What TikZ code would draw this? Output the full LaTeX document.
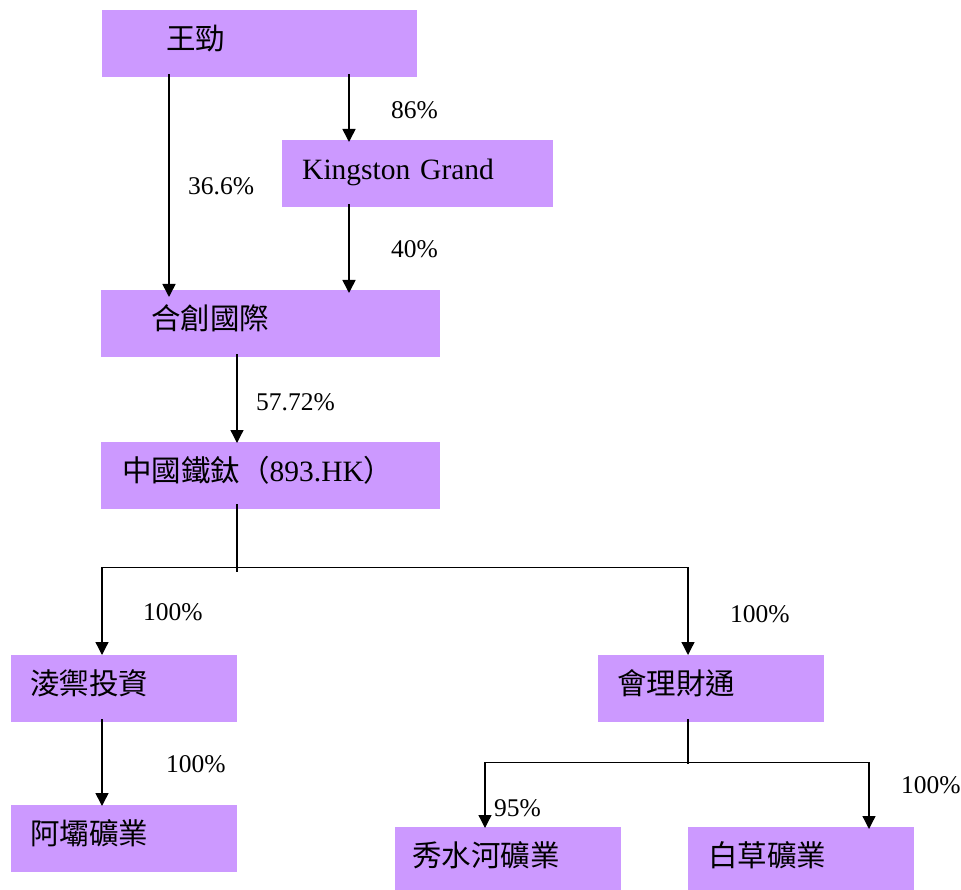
\documentclass[tikz,border=0pt]{standalone}
\usepackage{fontspec}
\setmainfont{Liberation Serif}
\newfontfamily\cjk{Noto Sans CJK TC}
\usetikzlibrary{arrows.meta}
\definecolor{boxpurple}{RGB}{204,153,255}

\begin{document}
\begin{tikzpicture}[x=1pt, y=-1pt,
    box/.style={fill=boxpurple, anchor=north west, minimum height=67pt,
      inner ysep=0pt, text height=22pt, text depth=11pt, align=left,
      font=\fontsize{29.5}{34}\selectfont},
    pct/.style={anchor=west, inner sep=0pt, font=\fontsize{25.5}{30}\selectfont},
    link/.style={line width=1.6pt, -{Triangle[width=13pt,length=13pt]}},
    trunk/.style={line width=1.3pt}
  ]
  \useasboundingbox (0,0) rectangle (961,890);

  \node[box, inner xsep=64pt, text width=187pt] (wang)     at (102,10)  {\cjk 王勁};
  \node[box, inner xsep=20pt, text width=231pt] (kingston) at (282,140) {Kingston Grand};
  \node[box, inner xsep=50pt, text width=239pt] (hechuang) at (101,290) {\cjk 合創國際};
  \node[box, inner xsep=21pt, text width=297pt] (ironti)   at (101,442) {{\cjk 中國鐵鈦（}893.HK{\cjk ）}};
  \node[box, inner xsep=19pt, text width=188pt] (lingyu)   at (11,655)  {\cjk 淩禦投資};
  \node[box, inner xsep=19pt, text width=188pt] (aba)      at (11,805)  {\cjk 阿壩礦業};
  \node[box, inner xsep=19pt, text width=188pt] (huili)    at (598,655) {\cjk 會理財通};
  \node[box, inner xsep=17pt, text width=192pt] (xiushui)  at (395,827) {\cjk 秀水河礦業};
  \node[box, inner xsep=20pt, text width=186pt] (baicao)   at (688,827) {\cjk 白草礦業};

  \draw[link, shorten <=-3pt, shorten >=-7pt] ([xshift=67pt]wang.south west) -- ([xshift=68pt]hechuang.north west);
  \draw[link, shorten <=-3pt, shorten >=-2pt] ([xshift=247pt]wang.south west) -- ([xshift=67pt]kingston.north west);
  \draw[link, shorten <=-3pt, shorten >=-3pt] ([xshift=67pt]kingston.south west) -- ([xshift=248pt]hechuang.north west);
  \draw[link, trunk, shorten <=-3pt, shorten >=-1pt] ([xshift=136pt]hechuang.south west) -- ([xshift=136pt]ironti.north west);

  \coordinate (fork) at ([xshift=136pt,yshift=-58pt]ironti.south west);
  \draw[trunk, shorten <=-5pt] ([xshift=136pt]ironti.south west) -- ([yshift=-5pt]fork);
  \draw[link, trunk] (fork) -| ([xshift=91pt]lingyu.north west);
  \draw[link, trunk] (fork) -| ([xshift=90pt]huili.north west);
  \draw[link, shorten <=-3pt, shorten >=-1pt] ([xshift=91pt]lingyu.south west) -- ([xshift=91pt]aba.north west);

  \coordinate (fork2) at ([xshift=90pt,yshift=-40pt]huili.south west);
  \draw[trunk, shorten <=-3pt] ([xshift=90pt]huili.south west) -- ([yshift=-2pt]fork2);
  \draw[link, trunk, shorten >=-1pt] (fork2) -| ([xshift=90pt]xiushui.north west);
  \draw[link, trunk, shorten >=-2pt] (fork2) -| ([xshift=181pt]baicao.north west);

  \node[pct] (p86)   at (391,110) {86\%};
  \node[pct] (p366)  at (188,186) {36.6\%};
  \node[pct] (p40)   at (391,249) {40\%};
  \node[pct] (p5772) at (256,402) {57.72\%};
  \node[pct] (p100a) at (143,612) {100\%};
  \node[pct] (p100b) at (730,614) {100\%};
  \node[pct] (p100c) at (166,764) {100\%};
  \node[pct] (p95)   at (494,808) {95\%};
  \node[pct] (p100d) at (901,785) {100\%};
\end{tikzpicture}
\end{document}
